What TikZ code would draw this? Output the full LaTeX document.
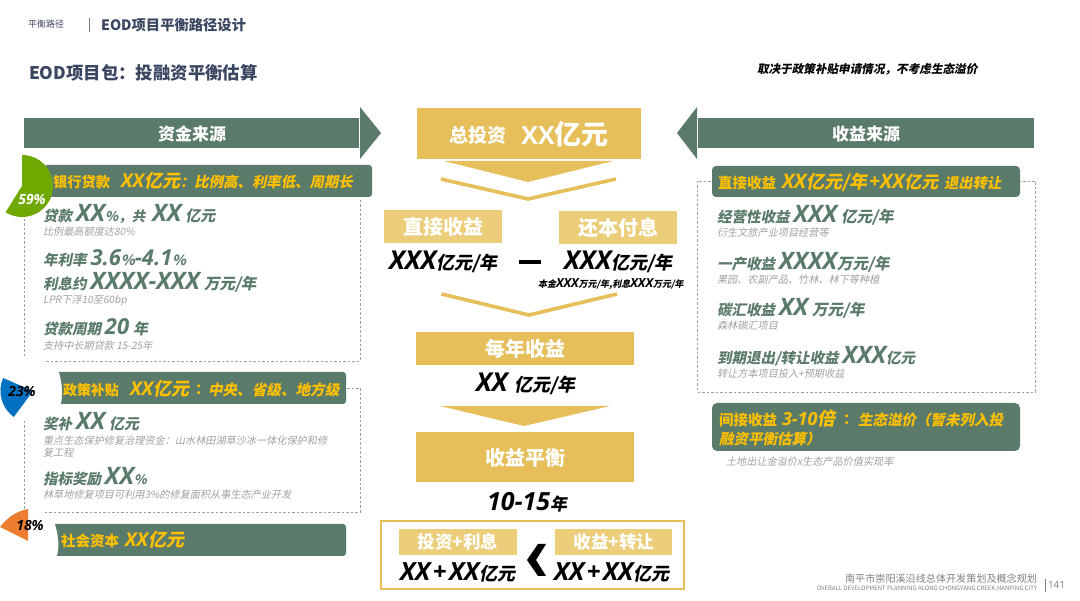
\documentclass[tikz,border=0pt]{standalone}
\usepackage{fontspec}
\setmainfont{Noto Sans CJK SC}
\newfontfamily\cnS{Noto Sans CJK SC}[FakeSlant=0.2]
\newfontfamily\latf{Open Sans}
\newcommand\sz[1]{\fontsize{#1}{#1}\selectfont}
\newcommand\XI[2]{{\latf\bfseries\itshape\sz{#1}#2}}
\newcommand\CI[2]{{\cnS\bfseries\sz{#1}#2}}
\newcommand\gp{\hspace{4pt}}
\definecolor{sage}{HTML}{5B7B6A}
\definecolor{gold}{HTML}{E6BF5A}
\definecolor{paleg}{HTML}{ECCD7A}
\definecolor{navy}{HTML}{3A4560}
\definecolor{amber}{HTML}{FFC000}
\definecolor{dashc}{HTML}{8FA79C}
\definecolor{subg}{HTML}{A0A0A0}
\definecolor{footg}{HTML}{808080}
\definecolor{pieg}{HTML}{6FA800}
\definecolor{pieb}{HTML}{0070C0}
\definecolor{pieo}{HTML}{ED7D31}
\tikzset{
 lbl/.style={inner sep=0pt,outer sep=0pt,anchor=west},
 mid/.style={inner sep=0pt,outer sep=0pt,anchor=center},
 green/.style={inner sep=0pt,outer sep=0pt,anchor=base west,text=sage},
 sub/.style={inner sep=0pt,outer sep=0pt,anchor=base west,text=subg,font=\cnS\sz{10.15}},
 ban/.style={lbl,text=amber},
 blk/.style={lbl,text=black},
 wht/.style={mid,text=white,font=\bfseries\sz{20}},
 pct/.style={mid,font=\latf\bfseries\itshape\sz{14}},
 dsh/.style={draw=dashc,dash pattern=on 2.5pt off 2pt,line width=.8pt},
 goldbox/.style={fill=gold},
 palebox/.style={fill=paleg},
 chev/.style={draw=gold,line width=3.6pt,line join=miter},
}
\begin{document}
\begin{tikzpicture}[x=1pt,y=-1pt]
\useasboundingbox (0,0) rectangle (1080,601);
% header
\node[lbl,text=navy,font=\sz{9}] (crumb) at (28,24) {平衡路径};
\draw[navy!70,line width=.8pt] (89,18) -- (89,32);
\node[lbl,text=navy,font=\bfseries\sz{14.3}] (head) at (101,25) {EOD项目平衡路径设计};
\node[lbl,text=navy,font=\bfseries\sz{17.4}] (title) at (29,73) {EOD项目包：投融资平衡估算};
\node[blk,font=\cnS\bfseries\sz{11.6}] (note) at (757,69) {取决于政策补贴申请情况，不考虑生态溢价};
% dashed frames
\draw[dsh] (360,200) -- (360,361) -- (44,361);
\draw[dsh] (24,219) -- (24,358);
\draw[dsh] (347,388) -- (360,388) -- (360,512) -- (43,512);
\draw[dsh] (24,421) -- (24,512);
\draw[dsh] (697,181) rectangle (1035,392);
% big arrows
\fill[sage] (24,118) rectangle (359,148.5);
\fill[sage] (360,107) -- (381,133) -- (360,159) -- cycle;
\fill[sage] (698,118) rectangle (1034,148.5);
\fill[sage] (697,107) -- (677,133) -- (697,159) -- cycle;
\node[wht,font=\bfseries\sz{17}] (srcL) at (192,134) {资金来源};
\node[wht,font=\bfseries\sz{17}] (srcR) at (866,134) {收益来源};
% left banners
\fill[sage,rounded corners=3pt] (44,165) rectangle (372,197);
\fill[sage] (59,372) [rounded corners=3pt] -- (346,372) -- (346,404) [sharp corners] -- (61,404) .. controls (63,394) and (62,382) .. (59,372) -- cycle;
\fill[sage] (55,524) [rounded corners=3pt] -- (346,524) -- (346,556) [sharp corners] -- (57,556) .. controls (60,546) and (58,534) .. (55,524) -- cycle;
% pies
\fill[pieg] (22,186) -- (22,155) arc[start angle=90,end angle=-122,radius=31pt] -- cycle;
\fill[pieb] (33,391) -- (3,378) arc[start angle=157,end angle=234,radius=32.5pt] -- cycle;
\fill[pieo] (0,527) .. controls (8,517) and (17,511) .. (28,509) -- (28,541) -- cycle;
\node[pct,text=white] (p59) at (32,199) {59\%};
\node[pct,text=black] (p23) at (22,392) {23\%};
\node[pct,text=black] (p18) at (30,525) {18\%};
% left banner text
\node[ban,font=\bfseries\sz{14.3}] (b1a) at (53,182) {银行贷款};
\node[ban] (b1b) at (121,181) {\XI{19}{XX}\CI{18}{亿元}};
\node[ban] (b1c) at (180,182) {\CI{14.4}{：比例高、利率低、周期长}};
\node[ban,font=\bfseries\sz{14}] (b2a) at (63,390) {政策补贴};
\node[ban] (b2b) at (130,389) {\XI{19}{XX}\CI{18}{亿元}};
\node[ban,font=\bfseries\sz{14.5}] (b2c) at (195,390) {：};
\node[ban] (b2d) at (208,390) {\CI{14.6}{中央、省级、地方级}};
\node[ban,font=\bfseries\sz{14.5}] (b3a) at (61,541) {社会资本};
\node[ban] (b3b) at (125,540) {\XI{19}{XX}\CI{18}{亿元}};
% left items
\node[green] (l1) at (43,221.5) {\CI{14.5}{贷款}\gp\XI{24}{XX}\CI{13.5}{\%，共}\hspace{7pt}\XI{24}{XX}\gp\CI{15}{亿元}};
\node[sub] (l1s) at (43,236) {比例最高额度达80\%};
\node[green] (l2) at (43,266) {\CI{14.5}{年利率}\gp\XI{22}{3.6}\CI{14}{\%}\XI{22}{-4.1}\CI{14}{\%}};
\node[green] (l3) at (43,290) {\CI{14.5}{利息约}\gp\XI{24}{XXXX-XXX}\gp\CI{15.5}{万元/年}};
\node[sub] (l3s) at (43,304) {LPR下浮10至60bp};
\node[green] (l4) at (43,335) {\CI{14.5}{贷款周期}\gp\XI{22}{20}\gp\CI{15}{年}};
\node[sub] (l4s) at (43,350) {支持中长期贷款 15-25年};
\node[green] (l5) at (43,430) {\CI{14.5}{奖补}\gp\XI{24}{XX}\gp\CI{15}{亿元}};
\node[sub] (l5s) at (43,445) {重点生态保护修复治理资金：山水林田湖草沙冰一体化保护和修};
\node[sub] (l5t) at (43,457) {复工程};
\node[green] (l6) at (43,485) {\CI{14.5}{指标奖励}\gp\XI{24}{XX}\CI{13}{\%}};
\node[sub] (l6s) at (43,499) {林草地修复项目可利用3\%的修复面积从事生态产业开发};
% centre column
\fill[goldbox] (417,108) rectangle (641,159);
\node[mid,text=white,font=\bfseries\sz{19}] (tot) at (478,135) {总投资};
\node[mid,text=white] (totv) at (565,134) {{\latf\bfseries\sz{25}XX}{\bfseries\sz{27}亿元}};
\fill[gold] (444,161) -- (613,161) -- (528,182) -- cycle;
\draw[chev] (441,179) -- (528,199) -- (616,179);
\fill[palebox] (384,210) rectangle (502,243);
\fill[palebox] (559,211) rectangle (677,244);
\node[wht] (dir) at (443,227) {直接收益};
\node[wht] (rep) at (618,228) {还本付息};
\node[blk] (dirv) at (389,262) {\XI{26}{XXX}\CI{18}{亿元/年}};
\fill[black] (519,260) rectangle (541,264.5);
\node[blk] (repv) at (564,262) {\XI{26}{XXX}\CI{18}{亿元/年}};
\node[blk] (reps) at (538,284) {\CI{9}{本金}\XI{12.5}{XXX}\CI{9}{万元/年,利息}\XI{12.5}{XXX}\CI{9}{万元/年}};
\draw[chev] (441.5,294) -- (529,315) -- (617,294);
\fill[goldbox] (416,332) rectangle (634,365);
\node[wht] (ann) at (525,349) {每年收益};
\node[blk] (annv) at (476,384) {\XI{26}{XX}\hspace{7pt}\CI{18}{亿元/年}};
\fill[gold] (440,406) -- (610,406) -- (524,426) -- cycle;
\fill[goldbox] (416,432) rectangle (634,482);
\node[wht] (bal) at (525,458) {收益平衡};
\node[blk] (balv) at (487,502) {\XI{25}{10-15}\CI{17}{年}};
\draw[draw=gold,line width=1.8pt] (381,521) rectangle (684,589);
\fill[palebox] (399,529) rectangle (517,555);
\fill[palebox] (555,529) rectangle (672,555);
\node[wht,font=\bfseries\sz{17.5}] (inv) at (458,542) {投资+利息};
\node[wht,font=\bfseries\sz{17.5}] (rev) at (614,542) {收益+转让};
\node[blk] (invv) at (400,572) {\XI{25}{XX\hspace{2.5pt}+\hspace{2.5pt}XX}\CI{18}{亿元}};
\node[blk] (revv) at (554,572) {\XI{25}{XX\hspace{2.5pt}+\hspace{2.5pt}XX}\CI{18}{亿元}};
\fill[black] (538,544) -- (546,544) -- (536,560) -- (546,576) -- (538,576) -- (527,560) -- cycle;
% right banners
\fill[sage,rounded corners=4pt] (712,166) rectangle (1020,197);
\fill[sage,rounded corners=5pt] (712,403) rectangle (1020,451);
\node[ban,font=\bfseries\sz{14.5}] (r0a) at (718,183) {直接收益};
\node[ban] (r0b) at (782,182) {\XI{20}{XX}\CI{18}{亿元/年}\XI{20}{\hspace{2pt}+XX}\CI{17}{亿元}};
\node[ban] (r0c) at (944,183) {\CI{14.3}{退出转让}};
\node[ban,font=\bfseries\sz{14.5}] (r5a) at (719,420) {间接收益};
\node[ban] (r5b) at (782,419) {\XI{18}{3-10}\CI{18}{倍}};
\node[ban,font=\bfseries\sz{14.5}] (r5c) at (843,420) {：};
\node[ban] (r5d) at (858,420) {\CI{14.5}{生态溢价（暂未列入投}};
\node[ban] (r5e) at (719,439) {\CI{14.5}{融资平衡估算）}};
% right items
\node[green] (r1) at (717,223) {\CI{14.5}{经营性收益}\gp\XI{24}{XXX}\gp\CI{15.5}{亿元/年}};
\node[sub] (r1s) at (717,237) {衍生文旅产业项目经营等};
\node[green] (r2) at (717,269.5) {\CI{14.5}{一产收益}\gp\XI{24}{XXXX}\CI{15.5}{万元/年}};
\node[sub] (r2s) at (717,284) {果园、农副产品、竹林、林下等种植};
\node[green] (r3) at (717,316) {\CI{14.5}{碳汇收益}\gp\XI{24}{XX}\gp\CI{15.5}{万元/年}};
\node[sub] (r3s) at (717,330) {森林碳汇项目};
\node[green] (r4) at (717,364) {\CI{14.5}{到期退出/转让收益}\gp\XI{24}{XXX}\CI{14.5}{亿元}};
\node[sub] (r4s) at (717,378) {转让方本项目投入+预期收益};
\node[sub] (r5s) at (726,466) {土地出让金溢价x生态产品价值实现率};
% footer
\node[lbl,anchor=east,text=footg,font=\sz{10.1}] (f1) at (1037,579) {南平市崇阳溪沿线总体开发策划及概念规划};
\node[lbl,anchor=east,text=footg,font=\sz{6}] (f2) at (1037,589) {OVERALL DEVELOPMENT PLANNING ALONG CHONGYANG CREEK,NANPING CITY};
\draw[footg,line width=.7pt] (1045,579) -- (1045,592);
\node[lbl,text=footg,font=\latf\sz{10}] (pg) at (1048,585) {141};
\end{tikzpicture}
\end{document}
